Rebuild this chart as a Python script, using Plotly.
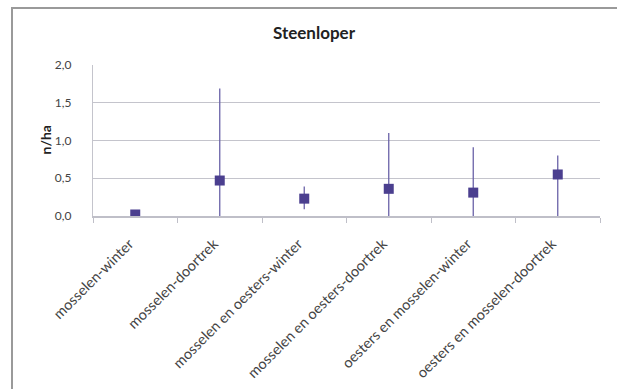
import plotly.graph_objects as go

# Steenloper density per habitat/season (n/ha) with range bars
categories = [
    "mosselen-winter",
    "mosselen-doortrek",
    "mosselen en oesters-winter",
    "mosselen en oesters-doortrek",
    "oesters en mosselen-winter",
    "oesters en mosselen-doortrek",
]
means = [0.02, 0.47, 0.23, 0.36, 0.31, 0.55]
upper = [0.02, 1.69, 0.39, 1.10, 0.91, 0.80]
lower = [0.02, 0.00, 0.09, 0.00, 0.00, 0.00]

err_plus = [u - m for u, m in zip(upper, means)]
err_minus = [m - l for m, l in zip(means, lower)]

W, H = 617, 389
L, R, T, B = 93, 17, 65, 173
pw = W - L - R
ph = H - T - B

def px_x(x):
    return (x - L) / pw

def px_y(y):
    return (H - B - y) / ph

font_family = "Lato, 'Open Sans', sans-serif"
mark_color = "#4b3f8f"

fig = go.Figure(
    go.Scatter(
        x=categories,
        y=means,
        mode="markers",
        marker=dict(symbol="square", size=10, color=mark_color),
        error_y=dict(
            type="data",
            symmetric=False,
            array=err_plus,
            arrayminus=err_minus,
            color="#6a62a8",
            thickness=1.3,
            width=0,
        ),
        showlegend=False,
    )
)

fig.update_layout(
    width=W,
    height=H,
    margin=dict(l=L, r=R, t=T, b=B, autoexpand=False),
    paper_bgcolor="white",
    plot_bgcolor="white",
    separators=",.",
    font=dict(family=font_family, size=11, color="#444"),
    title=dict(
        text="<b>Steenloper</b>",
        x=314 / W,
        xanchor="center",
        y=1 - 33 / H,
        yanchor="middle",
        yref="container",
        font=dict(size=17, color="#222", family=font_family),
    ),
    xaxis=dict(
        range=[-0.5, 5.5],
        automargin=False,
        tickangle=-45,
        showgrid=False,
        showline=True,
        linecolor="#bfbfc8",
        linewidth=1.5,
        ticks="outside",
        tickson="boundaries",
        ticklen=5,
        tickcolor="#bfbfc8",
        ticklabelstandoff=12,
        ticklabelshift=-6,
        tickfont=dict(size=14.5, color="#444"),
    ),
    yaxis=dict(
        range=[0, 2.0],
        automargin=False,
        dtick=0.5,
        tickformat=".1f",
        showgrid=True,
        gridcolor="#c4c4cc",
        gridwidth=1.2,
        zeroline=False,
        showline=True,
        linecolor="#c4c4cc",
        linewidth=1.2,
        ticks="",
        ticklabelstandoff=18,
        tickfont=dict(size=12, color="#444"),
    ),
    annotations=[
        dict(
            text="<b>n/ha</b>",
            xref="paper",
            yref="paper",
            x=px_x(45),
            y=0.5,
            xanchor="center",
            yanchor="middle",
            textangle=-90,
            showarrow=False,
            font=dict(size=14, color="#222", family=font_family),
        )
    ],
    shapes=[
        dict(
            type="rect",
            xref="paper",
            yref="paper",
            x0=px_x(12),
            x1=px_x(630),
            y0=px_y(400),
            y1=px_y(8),
            line=dict(color="#9a9a9a", width=2),
            fillcolor="rgba(0,0,0,0)",
            layer="below",
        )
    ],
)

fig.write_html("out.html")
